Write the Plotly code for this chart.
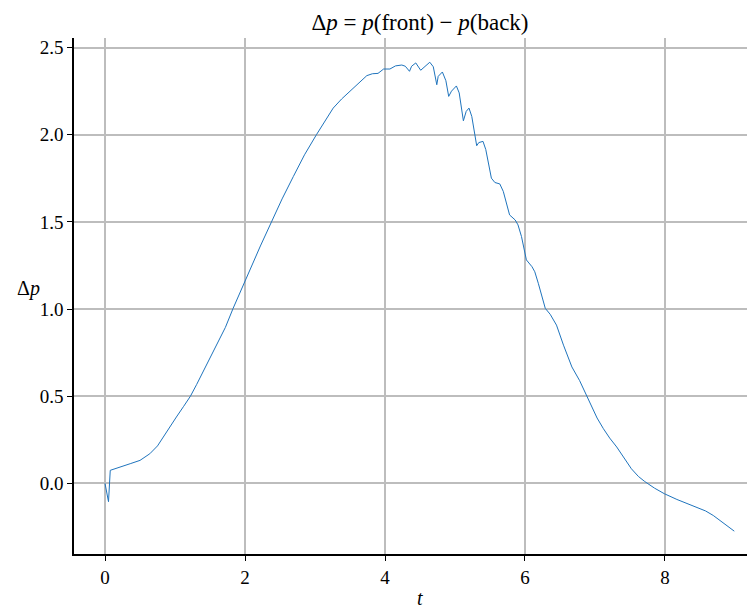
import plotly.graph_objects as go

t_vals = [0.0, 0.05, 0.075, 0.2, 0.36, 0.5, 0.64, 0.75, 0.83, 0.92, 1.02, 1.12, 1.22, 1.31, 1.40,
          1.50, 1.60, 1.72, 1.83, 1.95, 2.07, 2.22, 2.38, 2.53, 2.69, 2.85, 3.02, 3.14, 3.26, 3.38,
          3.5, 3.62, 3.74, 3.82, 3.90, 3.98, 4.07, 4.15, 4.24, 4.29, 4.35, 4.38, 4.44, 4.51, 4.57,
          4.64, 4.69, 4.74, 4.76, 4.82, 4.87, 4.91, 4.95, 5.02, 5.06, 5.12, 5.16, 5.20, 5.24, 5.27,
          5.31, 5.34, 5.40, 5.44, 5.52, 5.57, 5.64, 5.69, 5.78, 5.86, 5.90, 5.95, 6.02, 6.10, 6.14,
          6.19, 6.29, 6.36, 6.45, 6.55, 6.67, 6.78, 6.88, 6.95, 7.03, 7.12, 7.21, 7.31, 7.42, 7.52,
          7.62, 7.71, 7.85, 7.99, 8.17, 8.30, 8.45, 8.58, 8.69, 8.79, 8.90, 8.99]
dp_vals = [0.0, -0.105, 0.075, 0.09, 0.113, 0.132, 0.17, 0.215, 0.266, 0.32, 0.381, 0.44, 0.5, 0.568, 0.64,
           0.716, 0.793, 0.895, 1.004, 1.11, 1.224, 1.362, 1.502, 1.632, 1.76, 1.885, 2.0, 2.08, 2.153, 2.205,
           2.249, 2.295, 2.339, 2.35, 2.352, 2.377, 2.377, 2.395, 2.40, 2.393, 2.364, 2.393, 2.412, 2.37, 2.393,
           2.416, 2.39, 2.287, 2.335, 2.36, 2.31, 2.22, 2.25, 2.28, 2.24, 2.08, 2.134, 2.153, 2.105, 2.03,
           1.937, 1.955, 1.962, 1.915, 1.751, 1.726, 1.718, 1.675, 1.54, 1.511, 1.483, 1.416, 1.282, 1.243, 1.214,
           1.148, 1.004, 0.97, 0.908, 0.793, 0.668, 0.59, 0.506, 0.439, 0.375, 0.314, 0.26, 0.209, 0.145, 0.084,
           0.04, 0.011, -0.027, -0.059, -0.092, -0.112, -0.136, -0.158, -0.184, -0.213, -0.245, -0.274]

x_ticks = [0, 2, 4, 6, 8]
y_ticks = [0.0, 0.5, 1.0, 1.5, 2.0, 2.5]
y_tick_text = ["0.0", "0.5", "1.0", "1.5", "2.0", "2.5"]

FONT = "Liberation Serif"
W, H = 747, 602          # page body has an 8px margin
L, T, B = 66, 30, 56
PW, PH = W - L, H - T - B

fig = go.Figure()
fig.add_trace(go.Scatter(x=t_vals, y=dp_vals, mode="lines",
                         line=dict(color="#1f74bd", width=1), showlegend=False))

axis_common = dict(showgrid=True, gridcolor="#bdbdbd", gridwidth=1.5, zeroline=False,
                   showline=True, linecolor="black", linewidth=1.5,
                   ticks="outside", ticklen=5, tickwidth=1.2, tickcolor="black",
                   tickfont=dict(family=FONT, size=19, color="black"))

fig.update_layout(
    width=W, height=H,
    margin=dict(l=L, r=0, t=T, b=B, autoexpand=False),
    plot_bgcolor="white", paper_bgcolor="white",
    font=dict(family=FONT, size=19, color="black"),
    title=dict(text="Δ<i>p</i> = <i>p</i>(front) − <i>p</i>(back)",
               x=(420 - 8) / W, xanchor="center", xref="container",
               y=1 - (22 - 8) / H, yanchor="middle", yref="container",
               font=dict(family=FONT, size=23, color="black")),
    xaxis=dict(range=[-0.443, 9.286], tickvals=x_ticks, ticktext=[str(v) for v in x_ticks],
               **axis_common),
    yaxis=dict(range=[-0.405, 2.555], tickvals=y_ticks, ticktext=y_tick_text,
               **axis_common),
    annotations=[
        dict(text="Δ<i>p</i>", xref="paper", yref="paper", x=-(74 - 28) / PW, y=(554 - 288) / PH,
             xanchor="center", yanchor="middle", showarrow=False,
             font=dict(family=FONT, size=20, color="black")),
        dict(text="<i>t</i>", xref="x", yref="paper", x=4.5, y=-(598 - 554) / PH,
             xanchor="center", yanchor="middle", showarrow=False,
             font=dict(family=FONT, size=20, color="black")),
    ],
)

fig.write_html("out.html")
